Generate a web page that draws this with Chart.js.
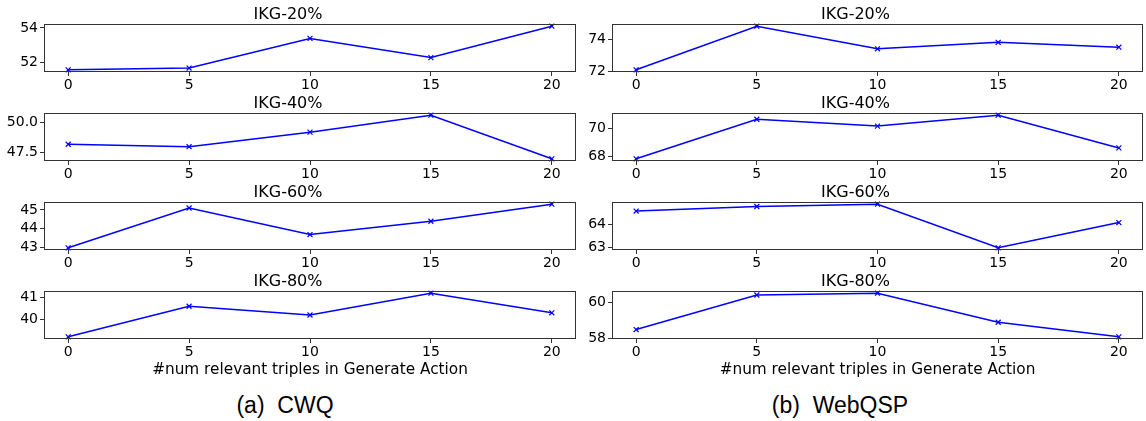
<!DOCTYPE html>
<html>
<head>
<meta charset="utf-8">
<script src="https://cdn.jsdelivr.net/npm/chart.js@4.4.1/dist/chart.umd.min.js"></script>
<style>
  body { margin: 0; background: #fff; width: 1146px; height: 421px; position: relative; overflow: hidden; }
  canvas { position: absolute; }
  .cap { position: absolute; top: 392px; font-family: "Liberation Sans", Arial, sans-serif; font-size: 23px;
         line-height: 26px; white-space: pre; transform: translateX(-50%); color: #000; }
</style>
</head>
<body>
<div class="cap" id="capA" style="left:285px"></div>
<div class="cap" id="capB" style="left:840px"></div>
<script>
"use strict";

// values
const steps = [0, 5, 10, 15, 20];
const panelTitles = ["IKG-20%", "IKG-40%", "IKG-60%", "IKG-80%"];
const xLabel = "#num relevant triples in Generate Action";
const captions = ["(a)  CWQ", "(b)  WebQSP"];

const cwq20 = [51.6, 51.7, 53.4, 52.3, 54.1];
const cwq40 = [48.2, 48.0, 49.2, 50.6, 47.0];
const cwq60 = [43.0, 45.1, 43.7, 44.4, 45.3];
const cwq80 = [39.2, 40.6, 40.2, 41.2, 40.3];

const web20 = [72.1, 74.8, 73.4, 73.8, 73.5];
const web40 = [67.8, 70.7, 70.2, 71.0, 68.6];
const web60 = [64.6, 64.8, 64.9, 63.0, 64.1];
const web80 = [58.5, 60.4, 60.5, 58.9, 58.1];

const cwqTicks = [[52, 54], [47.5, 50.0], [43, 44, 45], [40, 41]];
const webTicks = [[72, 74], [68, 70], [63, 64], [58, 60]];
const cwqDecimals = [0, 1, 0, 0];
const webDecimals = [0, 0, 0, 0];

// layout
const FONT = "'DejaVu Sans', sans-serif";
const rowTops = [24, 113, 202, 291];
const plotH = 48;
const titleH = 22;
const cols = [{ left: 0, width: 577 }, { left: 568, width: 576 }];

document.getElementById("capA").textContent = captions[0];
document.getElementById("capB").textContent = captions[1];

// box round the plot area, like matplotlib spines
const framePlugin = {
    id: "frame",
    afterDraw(chart) {
        const a = chart.chartArea, c = chart.ctx;
        c.save();
        c.strokeStyle = "#333";
        c.lineWidth = 1;
        c.strokeRect(Math.round(a.left) + 0.5, Math.round(a.top) + 0.5,
                     Math.round(a.right - a.left) - 1, Math.round(a.bottom - a.top) - 1);
        c.restore();
    }
};

function makePanel(col, row, values, ticks, decimals) {
    const xh = row === 3 ? 40 : 26;
    const canvas = document.createElement("canvas");
    canvas.width = cols[col].width;
    canvas.height = titleH + plotH + xh;
    canvas.style.left = cols[col].left + "px";
    canvas.style.top = (rowTops[row] - titleH) + "px";
    document.body.appendChild(canvas);

    // matplotlib style 5% margins
    const lo = Math.min(...values), hi = Math.max(...values);
    const m = (hi - lo) * 0.05;

    const tickGrid = { display: true, drawOnChartArea: false, drawTicks: true, tickLength: 4, tickColor: "#333", tickWidth: 1 };

    new Chart(canvas.getContext("2d"), {
        type: "line",
        data: {
            datasets: [{
                data: steps.map((x, i) => ({ x: x, y: values[i] })),
                borderColor: "#0000ff",
                borderWidth: 1.5,
                pointStyle: "crossRot",
                pointRadius: 3.5,
                pointBorderWidth: 1.2,
                pointBorderColor: "#0000ff",
                tension: 0,
                fill: false,
                clip: 6
            }]
        },
        options: {
            responsive: false,
            animation: false,
            devicePixelRatio: 1,
            layout: { autoPadding: false, padding: { left: 0, right: 1, top: 0, bottom: 0 } },
            scales: {
                x: {
                    type: "linear",
                    min: -1,
                    max: 21,
                    afterBuildTicks: s => { s.ticks = steps.map(v => ({ value: v })); },
                    afterFit: s => { s.height = xh; s.paddingLeft = 0; s.paddingRight = 0; },
                    grid: tickGrid,
                    border: { display: false },
                    ticks: { font: { family: FONT, size: 14 }, color: "#000", padding: 1, maxRotation: 0, autoSkip: false },
                    title: {
                        display: row === 3,
                        text: xLabel,
                        color: "#000",
                        font: { family: FONT, size: 15.3 },
                        padding: { top: 0, bottom: 0 }
                    }
                },
                y: {
                    type: "linear",
                    min: lo - m,
                    max: hi + m,
                    afterBuildTicks: s => { s.ticks = ticks.map(v => ({ value: v })); },
                    afterFit: s => { s.width = 44; s.paddingTop = 0; s.paddingBottom = 0; },
                    grid: tickGrid,
                    border: { display: false },
                    ticks: {
                        font: { family: FONT, size: 14 },
                        color: "#000",
                        padding: 2,
                        callback: v => Number(v).toFixed(decimals)
                    }
                }
            },
            plugins: {
                legend: { display: false },
                tooltip: { enabled: false },
                title: {
                    display: true,
                    text: panelTitles[row],
                    color: "#000",
                    font: { family: FONT, size: 16, weight: "normal" },
                    padding: { top: 2.8, bottom: 0 }
                }
            }
        },
        plugins: [framePlugin]
    });
}

const cwqSeries = [cwq20, cwq40, cwq60, cwq80];
const webSeries = [web20, web40, web60, web80];
for (let r = 0; r < 4; r++) {
    makePanel(0, r, cwqSeries[r], cwqTicks[r], cwqDecimals[r]);
    makePanel(1, r, webSeries[r], webTicks[r], webDecimals[r]);
}
</script>
</body>
</html>
